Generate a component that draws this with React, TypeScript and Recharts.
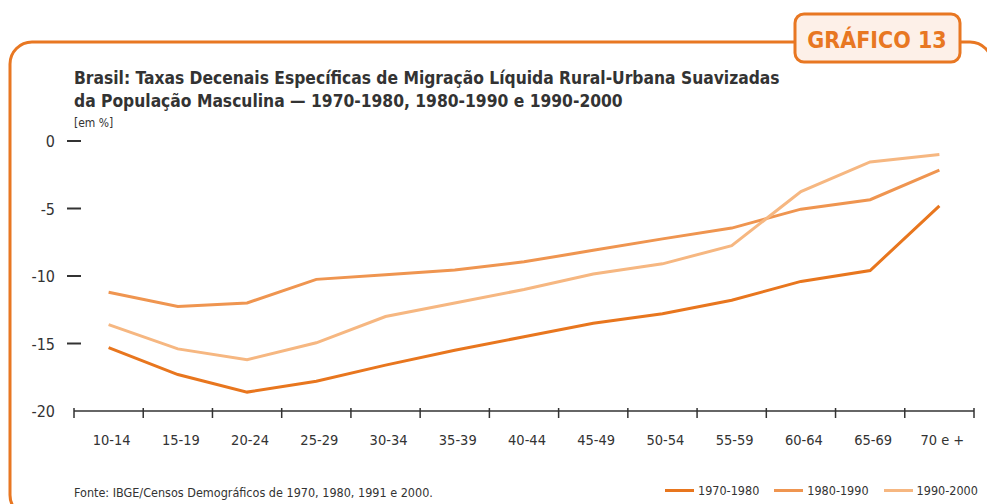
import { LineChart, Line, XAxis, YAxis } from 'recharts';

const ageGroups = ['10-14', '15-19', '20-24', '25-29', '30-34', '35-39', '40-44', '45-49', '50-54', '55-59', '60-64', '65-69', '70 e +'];
const rates1970 = [-15.3, -17.3, -18.6, -17.8, -16.6, -15.5, -14.5, -13.5, -12.8, -11.8, -10.4, -9.6, -4.8];
const rates1980 = [-11.2, -12.25, -12.0, -10.25, -9.9, -9.55, -8.95, -8.1, -7.25, -6.45, -5.05, -4.35, -2.15];
const rates1990 = [-13.6, -15.4, -16.2, -14.95, -13.0, -12.0, -11.0, -9.85, -9.1, -7.75, -3.75, -1.55, -1.0];
const yTicks = [0, -5, -10, -15, -20];

const seriesNames = ['1970-1980', '1980-1990', '1990-2000'];
const seriesColors = ['#e8761e', '#ef9550', '#f6b781'];

const data = ageGroups.map((age, i) => ({
    age,
    s1970: rates1970[i],
    s1980: rates1980[i],
    s1990: rates1990[i],
}));

const FONT = "'Liberation Sans Narrow', 'DejaVu Sans Condensed', 'Roboto', sans-serif";
const TEXT = '#333333';
const ORANGE = '#e87722';

const PLOT_LEFT = 74;
const PLOT_RIGHT = 974;
const BAND = (PLOT_RIGHT - PLOT_LEFT) / ageGroups.length;

function XTick(props: any) {
    const { x, y, payload, index } = props;
    const left = x - BAND / 2;
    return (
        <g>
            <line x1={left} x2={left} y1={y - 11} y2={y - 1} stroke={TEXT} strokeWidth={1.5} />
            {index === ageGroups.length - 1 && (
                <line x1={left + BAND} x2={left + BAND} y1={y - 11} y2={y - 1} stroke={TEXT} strokeWidth={1.5} />
            )}
            <text x={x + 3} y={y + 26} textAnchor="middle" fill={TEXT} fontSize={14.5} fontFamily={FONT}>
                {payload.value}
            </text>
        </g>
    );
}

function YTick(props: any) {
    const { x, y, payload } = props;
    return (
        <g>
            {payload.value !== -20 && (
                <line x1={x + 1} x2={x + 15} y1={y} y2={y} stroke={TEXT} strokeWidth={2} />
            )}
            <text x={x - 11} y={y + 6} textAnchor="end" fill={TEXT} fontSize={16} fontFamily={FONT}>
                {payload.value}
            </text>
        </g>
    );
}

function SeriesLegend() {
    return (
        <div style={{ position: 'absolute', left: 665, top: 483, display: 'flex', gap: 15, fontFamily: FONT, fontSize: 12.5, color: TEXT }}>
            {seriesNames.map((name, i) => (
                <div key={name} style={{ display: 'flex', alignItems: 'center', gap: 4 }}>
                    <span style={{ display: 'inline-block', width: 29, height: 3, background: seriesColors[i] }} />
                    <span>{name}</span>
                </div>
            ))}
        </div>
    );
}

export default function App() {
    return (
        <div style={{ position: 'fixed', left: 0, top: 0, width: 987, height: 504, background: '#fff', overflow: 'hidden' }}>
            <svg width={987} height={504} style={{ position: 'absolute', left: 0, top: 0 }}>
                <rect x={10} y={42} width={982} height={475} rx={22} fill="none" stroke={ORANGE} strokeWidth={3} />
                <rect x={795} y={14} width={165} height={48} rx={9} fill="#fdf0e8" stroke={ORANGE} strokeWidth={3} />
                <text x={877} y={48} textAnchor="middle" fill={ORANGE} fontSize={23} fontWeight="bold" fontFamily={FONT}>
                    GRÁFICO 13
                </text>
                <text x={74} y={84} fill={TEXT} fontSize={17.3} fontWeight="bold" fontFamily={FONT}>
                    Brasil: Taxas Decenais Específicas de Migração Líquida Rural-Urbana Suavizadas
                </text>
                <text x={74} y={107} fill={TEXT} fontSize={17.3} fontWeight="bold" fontFamily={FONT}>
                    da População Masculina — 1970-1980, 1980-1990 e 1990-2000
                </text>
                <text x={74} y={127} fill={TEXT} fontSize={12} fontFamily={FONT}>
                    [em %]
                </text>
                <text x={74} y={497} fill={TEXT} fontSize={12.5} fontFamily={FONT}>
                    Fonte: IBGE/Censos Demográficos de 1970, 1980, 1991 e 2000.
                </text>
            </svg>
            <div style={{ position: 'absolute', left: 0, top: 0 }}>
                <LineChart width={987} height={504} data={data} margin={{ top: 141, right: 987 - PLOT_RIGHT, bottom: 53, left: 14 }}>
                    <XAxis
                        dataKey="age"
                        axisLine={{ stroke: TEXT, strokeWidth: 1.5 }}
                        tickLine={false}
                        tick={<XTick />}
                        interval={0}
                        height={40}
                        padding={{ left: BAND / 2, right: BAND / 2 }}
                    />
                    <YAxis
                        type="number"
                        domain={[-20, 0]}
                        ticks={yTicks}
                        axisLine={false}
                        tickLine={false}
                        tick={<YTick />}
                        width={60}
                        interval={0}
                    />
                    <Line type="linear" dataKey="s1970" name={seriesNames[0]} stroke={seriesColors[0]} strokeWidth={3} dot={false} isAnimationActive={false} />
                    <Line type="linear" dataKey="s1980" name={seriesNames[1]} stroke={seriesColors[1]} strokeWidth={3} dot={false} isAnimationActive={false} />
                    <Line type="linear" dataKey="s1990" name={seriesNames[2]} stroke={seriesColors[2]} strokeWidth={3} dot={false} isAnimationActive={false} />
                </LineChart>
            </div>
            <SeriesLegend />
        </div>
    );
}
